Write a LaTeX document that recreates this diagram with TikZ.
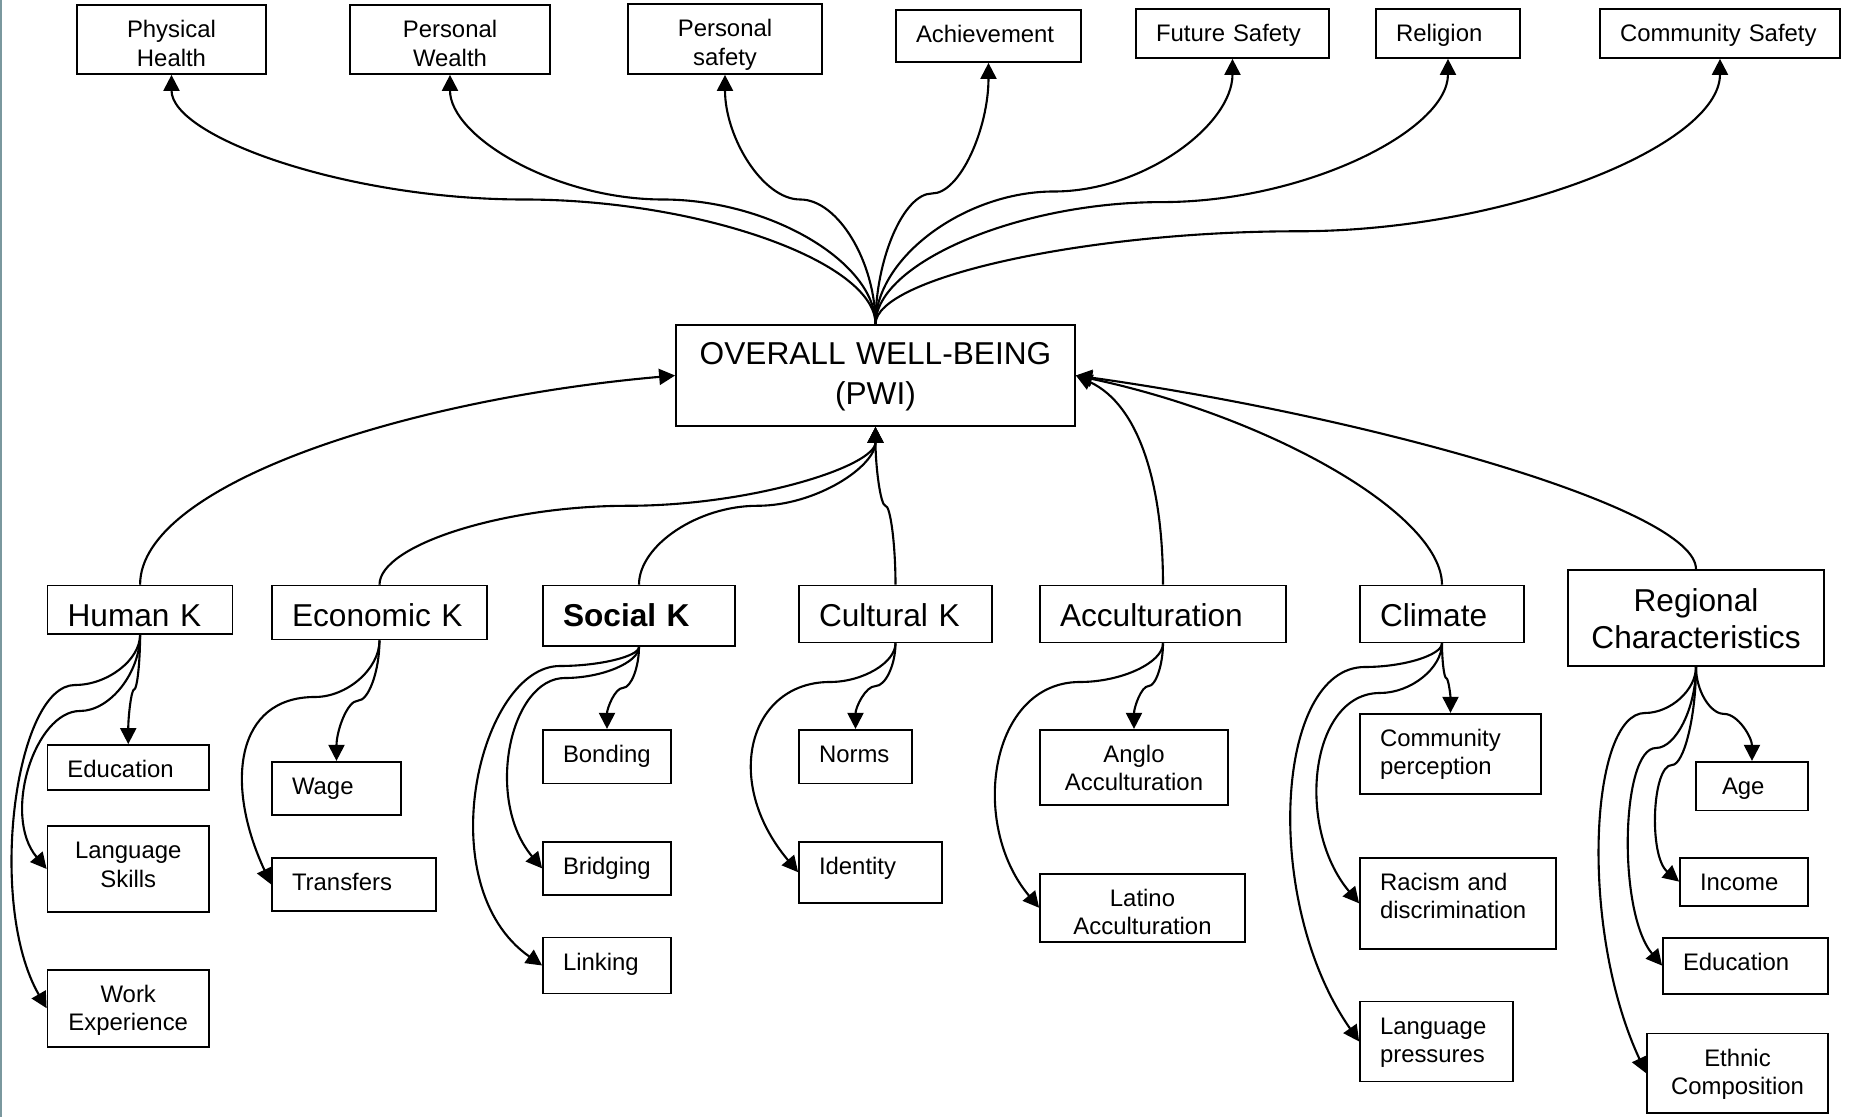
\documentclass[tikz,border=0pt]{standalone}
\usepackage{fontspec}
\setmainfont{Liberation Sans}
\usepackage{tikz}
\usetikzlibrary{arrows.meta,calc,positioning}
\definecolor{edgegray}{RGB}{122,152,158}
\tikzset{
  box/.style={draw, line width=0.5pt, inner xsep=2mm, inner ysep=0pt},
  cbox/.style={box, align=center},
  lbox/.style={box, align=left},
  smalltxt/.style={font=\fontsize{6.8}{8.1}\selectfont, text height=3.27mm},
  midtxt/.style={font=\fontsize{9}{10.4}\selectfont, text height=4.12mm},
  arr/.style={line width=0.6pt, -{Triangle[length=1.6mm,width=1.6mm]}},
  scurve/.style={to path={let \p1=(\tikztostart), \p2=(\tikztotarget),
      \p3=({0.5*\x1+0.5*\x2},{\y1+#1*(\y2-(\y1))}) in
      .. controls (\x1,{\y1+0.5*#1*(\y2-(\y1))}) and ({\x1+0.25*(\x2-(\x1))},\y3) .. (\p3)
      .. controls ({\x3+0.25*(\x2-(\x1))},\y3) and (\x2,{\y2-0.5*(1-#1)*(\y2-(\y1))}) .. (\tikztotarget) \tikztonodes}},
  scurve/.default=0.5,
  lcurve/.style={to path={let \p1=(\tikztostart), \p2=(\tikztotarget) in
      .. controls (\x1,{0.5*\y1+0.5*\y2}) and ({0.5*\x1+0.5*\x2},\y2) .. (\tikztotarget) \tikztonodes}}
}
\begin{document}
\begin{tikzpicture}[x=0.1mm, y=0.1mm]
		\useasboundingbox (0,0) rectangle (1853,-1117);
		\fill [edgegray] (0,0) rectangle (2,-1117);
		% outcomes
		\node [cbox, smalltxt, text depth=3.63mm, text width=14.9mm, minimum height=6.9mm] (ph) at (171.5,-39.5) {Physical\\Health};
		\node [cbox, smalltxt, text depth=3.63mm, text width=16mm, minimum height=6.9mm] (pw) at (450,-39.5) {Personal\\Wealth};
		\node [cbox, smalltxt, text depth=3.73mm, text width=15.4mm, minimum height=7mm] (ps) at (725,-39) {Personal\\safety};
		\node [lbox, smalltxt, text depth=1.93mm, text width=14.5mm, minimum height=5.2mm] (ach) at (988.5,-36) {Achievement};
		\node [lbox, smalltxt, text depth=1.63mm, text width=15.3mm, minimum height=4.9mm] (fs) at (1232.5,-33.5) {Future~Safety};
		\node [lbox, smalltxt, text depth=1.63mm, text width=10.4mm, minimum height=4.9mm] (rel) at (1448,-33.5) {Religion};
		\node [lbox, smalltxt, text depth=1.63mm, text width=20mm, minimum height=4.9mm] (cs) at (1720,-33.5) {Community~Safety};
		\node [cbox, font=\fontsize{9}{11.4}\selectfont, text height=3.93mm, text depth=6.17mm, text width=35.9mm, minimum height=10.1mm] (pwi) at (875.5,-375.5) {OVERALL WELL-BEING\\(PWI)};
		% capitals
		\node [lbox, midtxt, text depth=0.71mm, text width=14.5mm, minimum height=4.83mm] (hk) at (140.1,-609.75) {Human~K};
		\node [lbox, midtxt, text depth=1.28mm, text width=17.5mm, minimum height=5.4mm] (ek) at (379.5,-612.6) {Economic~K};
		\node [lbox, midtxt, text depth=1.92mm, text width=15.2mm, minimum height=6.04mm] (sk) at (639,-615.8) {\bfseries Social~K};
		\node [lbox, midtxt, text depth=1.56mm, text width=15.3mm, minimum height=5.68mm] (ck) at (895.5,-614) {Cultural~K};
		\node [lbox, midtxt, text depth=1.56mm, text width=20.6mm, minimum height=5.68mm] (acc) at (1163,-614) {Acculturation};
		\node [lbox, midtxt, text depth=1.56mm, text width=12.4mm, minimum height=5.68mm] (cl) at (1442,-614) {Climate};
		\node [cbox, midtxt, text height=4.15mm, text depth=5.45mm, text width=21.6mm, minimum height=9.6mm] (rc) at (1696,-618) {Regional\\Characteristics};
		% components
		\node [lbox, smalltxt, text depth=1.23mm, text width=12.15mm, minimum height=4.5mm] (edu) at (128.25,-767.5) {Education};
		\node [cbox, smalltxt, text depth=5.33mm, text width=12.15mm, minimum height=8.6mm] (ls) at (128.25,-869) {Language\\Skills};
		\node [cbox, smalltxt, text depth=4.43mm, text width=12.15mm, minimum height=7.7mm] (we) at (128.25,-1008.2) {Work\\Experience};
		\node [lbox, smalltxt, text depth=2.05mm, text width=8.9mm, minimum height=5.32mm] (wage) at (336.5,-788.4) {Wage};
		\node [lbox, smalltxt, text depth=2.06mm, text width=12.4mm, minimum height=5.33mm] (tr) at (354,-884.4) {Transfers};
		\node [lbox, smalltxt, text depth=2.09mm, text width=8.8mm, minimum height=5.36mm] (bo) at (607,-756.6) {Bonding};
		\node [lbox, smalltxt, text depth=2.06mm, text width=8.8mm, minimum height=5.33mm] (br) at (607,-868.4) {Bridging};
		\node [lbox, smalltxt, text depth=2.31mm, text width=8.8mm, minimum height=5.58mm] (li) at (607,-965.5) {Linking};
		\node [lbox, smalltxt, text depth=2.09mm, text width=7.3mm, minimum height=5.36mm] (norms) at (855.5,-756.6) {Norms};
		\node [lbox, smalltxt, text depth=2.83mm, text width=10.3mm, minimum height=6.1mm] (id) at (870.5,-872.25) {Identity};
		\node [cbox, smalltxt, text depth=4.23mm, text width=14.8mm, minimum height=7.5mm] (an) at (1134,-767.3) {Anglo\\Acculturation};
		\node [cbox, smalltxt, text depth=3.55mm, text width=16.5mm, minimum height=6.82mm] (la) at (1142.5,-907.8) {Latino\\Acculturation};
		\node [lbox, smalltxt, text depth=4.73mm, text width=14.1mm, minimum height=8mm] (cp) at (1450.5,-753.75) {Community\\perception};
		\node [lbox, smalltxt, text depth=5.86mm, text width=15.6mm, minimum height=9.13mm] (ra) at (1458,-903.35) {Racism and\\discrimination};
		\node [lbox, smalltxt, text depth=4.73mm, text width=11.3mm, minimum height=8mm] (lp) at (1436.5,-1041.5) {Language\\pressures};
		\node [lbox, smalltxt, text depth=1.59mm, inner xsep=2.6mm, text width=6mm, minimum height=4.86mm] (age) at (1752,-786.1) {Age};
		\node [lbox, smalltxt, text depth=1.53mm, text width=8.8mm, minimum height=4.8mm] (inc) at (1744,-881.65) {Income};
		\node [lbox, smalltxt, text depth=2.33mm, text width=12.5mm, minimum height=5.6mm] (edr) at (1745.5,-965.65) {Education};
		\node [cbox, smalltxt, text depth=4.68mm, text width=14.1mm, minimum height=7.95mm] (ec) at (1737.5,-1073.25) {Ethnic\\Composition};
		% bends
		\coordinate (kls) at (80,-711);
		\coordinate (kwe) at (75,-685);
		\coordinate (ktr) at (315,-697);
		\coordinate (kbr) at (565,-678);
		\coordinate (kli) at (560,-666);
		\coordinate (kid) at (830,-682);
		\coordinate (kla) at (1080,-682);
		\coordinate (kra) at (1380,-693);
		\coordinate (klp) at (1365,-667);
		\coordinate (kin) at (1672,-765);
		\coordinate (ker) at (1656,-748);
		\coordinate (kec) at (1645,-713);
		% well-being to outcomes
		\draw [arr] (pwi.north) to [scurve] (ph.south);
		\draw [arr] (pwi.north) to [scurve] (pw.south);
		\draw [arr] (pwi.north) to [scurve] (ps.south);
		\draw [arr] (pwi.north) to [scurve] (ach.south);
		\draw [arr] (pwi.north) to [scurve] (fs.south);
		\draw [arr] (pwi.north) to [scurve=0.46] (rel.south);
		\draw [arr] (pwi.north) to [scurve=0.35] (cs.south);
		% capitals to well-being
		\draw [arr] (hk.north) to [out=90,in=-175,out distance=10mm,in distance=27mm] (pwi.west);
		\draw [arr] (ek.north) to [scurve] (pwi.south);
		\draw [arr] (sk.north) to [scurve] (pwi.south);
		\draw [arr] (ck.north) to [scurve] (pwi.south);
		\draw [arr] (acc.north) to [out=90,in=-25,out distance=10mm,in distance=7mm] (pwi.east);
		\draw [arr] (cl.north) to [out=90,in=-12,out distance=7mm,in distance=20mm] (pwi.east);
		\draw [arr] (rc.north) to [out=90,in=-8,out distance=6mm,in distance=30mm] (pwi.east);
		% capitals to components
		\draw [arr] (hk.south) to [scurve] (edu.north);
		\draw [arr] (hk.south) to [lcurve] (kls) to [out=180,in=130,out distance=4.5mm,in distance=7mm] (ls.west);
		\draw [arr] (hk.south) to [lcurve] (kwe) to [out=180,in=120,out distance=6mm,in distance=12mm] (we.west);
		\draw [arr] (ek.south) to [scurve] (wage.north);
		\draw [arr] (ek.south) to [lcurve] (ktr) to [out=180,in=115,out distance=8mm,in distance=11mm] (tr.west);
		\draw [arr] (sk.south) to [scurve] (bo.north);
		\draw [arr] (sk.south) to [lcurve] (kbr) to [out=180,in=130,out distance=5.5mm,in distance=9mm] (br.west);
		\draw [arr] (sk.south) to [lcurve] (kli) to [out=180,in=145,out distance=8mm,in distance=14mm] (li.west);
		\draw [arr] (ck.south) to [scurve] (norms.north);
		\draw [arr] (ck.south) to [lcurve] (kid) to [out=180,in=130,out distance=8mm,in distance=12mm] (id.west);
		\draw [arr] (acc.south) to [scurve] (an.north);
		\draw [arr] (acc.south) to [lcurve] (kla) to [out=180,in=130,out distance=9mm,in distance=11mm] (la.west);
		\draw [arr] (cl.south) to [scurve] (cp.north);
		\draw [arr] (cl.south) to [lcurve] (kra) to [out=180,in=130,out distance=7mm,in distance=10mm] (ra.west);
		\draw [arr] (cl.south) to [lcurve] (klp) to [out=180,in=125,out distance=9mm,in distance=17mm] (lp.west);
		\draw [arr] (rc.south) to [scurve] (age.north);
		\draw [arr] (rc.south) to [lcurve] (kin) to [out=180,in=140,out distance=2mm,in distance=4mm] (inc.west);
		\draw [arr] (rc.south) to [lcurve] (ker) to [out=180,in=130,out distance=3.5mm,in distance=7mm] (edr.west);
		\draw [arr] (rc.south) to [lcurve] (kec) to [out=180,in=115,out distance=5.5mm,in distance=16mm] (ec.west);
\end{tikzpicture}
\end{document}
